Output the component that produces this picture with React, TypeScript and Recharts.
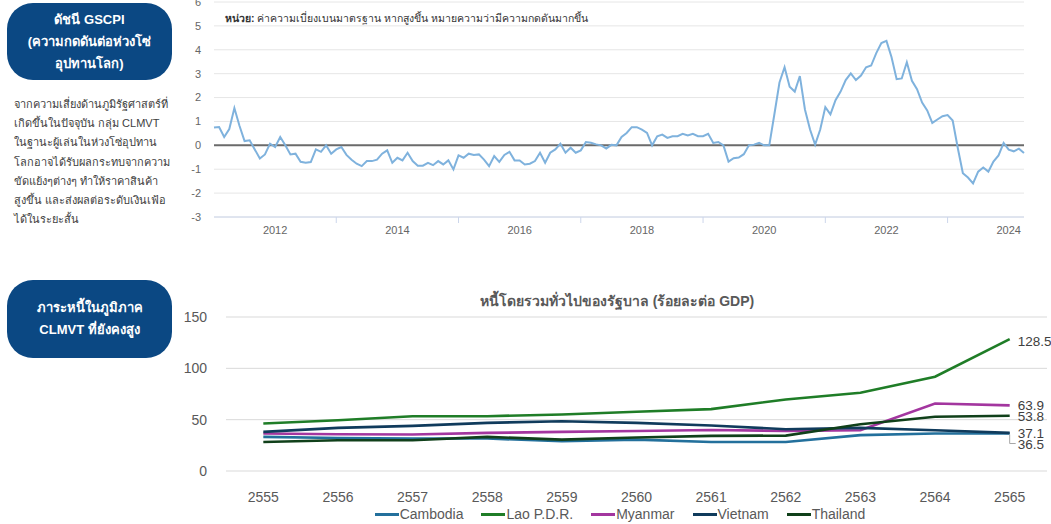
import React from 'react';
import { LineChart, Line, XAxis, YAxis, CartesianGrid, ReferenceLine, LabelList } from 'recharts';

// GSCPI monthly values, Jan 2011 - Apr 2024
const gscpiStartYear = 2011;
const gscpi2011 = [0.75, 0.77, 0.35, 0.68, 1.56, 0.82, 0.18, 0.21, -0.17, -0.55, -0.38, 0.07];
const gscpi2012 = [-0.07, 0.35, 0.0, -0.38, -0.35, -0.69, -0.73, -0.7, -0.17, -0.27, 0.0, -0.35];
const gscpi2013 = [-0.17, -0.07, -0.4, -0.6, -0.77, -0.87, -0.66, -0.66, -0.6, -0.35, -0.21, -0.73];
const gscpi2014 = [-0.52, -0.63, -0.31, -0.66, -0.85, -0.85, -0.73, -0.83, -0.66, -0.8, -0.63, -1.01];
const gscpi2015 = [-0.42, -0.52, -0.35, -0.4, -0.38, -0.6, -0.87, -0.45, -0.69, -0.4, -0.27, -0.63];
const gscpi2016 = [-0.63, -0.8, -0.77, -0.66, -0.31, -0.73, -0.31, -0.17, 0.07, -0.31, -0.1, -0.31];
const gscpi2017 = [-0.21, 0.14, 0.11, 0.04, 0.0, -0.13, 0.02, 0.0, 0.35, 0.52, 0.76, 0.76];
const gscpi2018 = [0.66, 0.52, 0.0, 0.38, 0.45, 0.31, 0.38, 0.38, 0.48, 0.41, 0.48, 0.38];
const gscpi2019 = [0.38, 0.48, 0.1, 0.14, 0.0, -0.68, -0.54, -0.51, -0.37, 0.0, 0.03, 0.1];
const gscpi2020 = [0.0, 0.0, 1.3, 2.63, 3.27, 2.45, 2.25, 2.9, 1.5, 0.66, 0.03, 0.66];
const gscpi2021 = [1.6, 1.3, 1.89, 2.25, 2.73, 3.01, 2.73, 2.92, 3.27, 3.34, 3.86, 4.28];
const gscpi2022 = [4.37, 3.69, 2.77, 2.8, 3.48, 2.7, 2.35, 1.79, 1.46, 0.94, 1.08, 1.22];
const gscpi2023 = [1.27, 1.04, -0.11, -1.17, -1.35, -1.59, -1.1, -0.93, -1.1, -0.68, -0.42, 0.1];
const gscpi2024 = [-0.18, -0.25, -0.14, -0.32];

const gscpiYearTicks = [2012, 2013, 2014, 2015, 2016, 2017, 2018, 2019, 2020, 2021, 2022, 2023, 2024];
const gscpiValueTicks = [-3, -2, -1, 0, 1, 2, 3, 4, 5, 6];

// government debt, % of GDP
const debtYears = ['2555', '2556', '2557', '2558', '2559', '2560', '2561', '2562', '2563', '2564', '2565'];
const cambodia = [33.2, 32.2, 31.6, 31.6, 29.0, 30.6, 28.3, 28.3, 34.9, 36.5, 36.5];
const lao = [46.3, 49.5, 53.4, 53.4, 55.0, 57.7, 60.3, 69.7, 76.2, 91.9, 128.5];
const myanmar = [36.5, 35.8, 35.5, 37.1, 38.1, 39.0, 40.0, 39.0, 39.7, 65.8, 63.9];
const vietnam = [38.1, 42.0, 44.0, 46.9, 48.5, 46.9, 44.3, 40.7, 42.0, 39.7, 37.1];
const thailand = [28.3, 30.0, 30.0, 33.2, 30.6, 32.6, 34.2, 34.5, 45.6, 52.8, 53.8];
const debtTicks = [0, 50, 100, 150];

const gscpiValues = [
  ...gscpi2011, ...gscpi2012, ...gscpi2013, ...gscpi2014, ...gscpi2015, ...gscpi2016, ...gscpi2017,
  ...gscpi2018, ...gscpi2019, ...gscpi2020, ...gscpi2021, ...gscpi2022, ...gscpi2023, ...gscpi2024,
];
const gscpiData = gscpiValues.map((v, i) => ({ t: gscpiStartYear + i / 12, v }));
const gscpiEnd = gscpiStartYear + (gscpiValues.length - 1) / 12;

const debtData = debtYears.map((year, i) => ({
  year,
  Cambodia: cambodia[i],
  'Lao P.D.R.': lao[i],
  Myanmar: myanmar[i],
  Vietnam: vietnam[i],
  Thailand: thailand[i],
}));

const series = [
  { key: 'Cambodia', color: '#23709c', dy: 11, leader: true },
  { key: 'Lao P.D.R.', color: '#1f7d27', dy: 2, leader: false },
  { key: 'Myanmar', color: '#a3369f', dy: 0, leader: false },
  { key: 'Vietnam', color: '#103b5c', dy: 1, leader: false },
  { key: 'Thailand', color: '#10401a', dy: 1, leader: false },
];

const font = '"Liberation Sans", Arial, sans-serif';
const navy = '#0b4883';

const YearTick = (props: any) => {
  const { x, y, payload } = props;
  const yr = payload.value;
  if (yr % 2 === 1) return <line x1={x} x2={x} y1={y} y2={y + 6} stroke="#ccd6eb" />;
  return (
    <text x={x} y={y + 17} textAnchor="middle" fill="#666" fontSize={11} fontFamily={font}>
      {yr}
    </text>
  );
};

const makeEndLabel = (dy: number, leader: boolean) => (props: any) => {
  const { x, y, index, value } = props;
  if (index !== debtYears.length - 1) return null;
  return (
    <g>
      {leader && (
        <polyline
          points={`${x},${y + 1} ${x},${y + dy - 1} ${x + 6},${y + dy - 1}`}
          fill="none"
          stroke="#a6a6a6"
          strokeWidth={1}
        />
      )}
      <text x={x + 8} y={y + dy} dominantBaseline="central" fill="#404040" fontSize={13.5} fontFamily={font}>
        {value.toFixed(1)}
      </text>
    </g>
  );
};

const Pill = ({ top, height, lines }: { top: number; height: number; lines: string[] }) => (
  <div
    style={{
      position: 'absolute', left: 7, top, width: 165, height, background: navy, borderRadius: 26,
      color: '#fff', fontWeight: 'bold', fontSize: 13, display: 'flex', flexDirection: 'column',
      justifyContent: 'center', alignItems: 'center', lineHeight: '22px', textAlign: 'center',
    }}
  >
    {lines.map((l) => <div key={l}>{l}</div>)}
  </div>
);

const paragraph = [
  'จากความเสี่ยงด้านภูมิรัฐศาสตร์ที่',
  'เกิดขึ้นในปัจจุบัน กลุ่ม CLMVT',
  'ในฐานะผู้เล่นในห่วงโซ่อุปทาน',
  'โลกอาจได้รับผลกระทบจากความ',
  'ขัดแย้งๆต่างๆ ทำให้ราคาสินค้า',
  'สูงขึ้น และส่งผลต่อระดับเงินเฟ้อ',
  'ได้ในระยะสั้น',
];

export default function App() {
  return (
    <div style={{ position: 'absolute', left: 0, top: 0, width: 1051, height: 524, background: '#fff', fontFamily: font, overflow: 'hidden' }}>
      <Pill top={3} height={77} lines={['ดัชนี GSCPI', '(ความกดดันต่อห่วงโซ่', 'อุปทานโลก)']} />
      <div style={{ position: 'absolute', left: 14, top: 95, fontSize: 11, color: '#404040', lineHeight: '19.2px' }}>
        {paragraph.map((l) => <div key={l}>{l}</div>)}
      </div>

      <div style={{ position: 'absolute', left: 0, top: 0 }}>
        <LineChart width={1051} height={240} data={gscpiData} margin={{ top: 2, right: 27, bottom: 0, left: 0 }}>
          <CartesianGrid vertical={false} stroke="#e6e6e6" />
          <XAxis
            dataKey="t"
            type="number"
            domain={[gscpiStartYear, gscpiEnd]}
            ticks={gscpiYearTicks}
            height={23}
            stroke="#ccd6eb"
            tickLine={false}
            tickSize={0}
            tickMargin={0}
            tick={<YearTick />}
            interval={0}
          />
          <YAxis
            type="number"
            domain={[-3, 6]}
            ticks={gscpiValueTicks}
            width={214}
            axisLine={false}
            tickLine={false}
            tickSize={0}
            tickMargin={13}
            tick={{ fill: '#666', fontSize: 11, fontFamily: font }}
            interval={0}
          />
          <ReferenceLine y={0} stroke="#6b6b6b" strokeWidth={2} />
          <Line type="linear" dataKey="v" stroke="#7fb2dd" strokeWidth={2} dot={false} isAnimationActive={false} />
        </LineChart>
      </div>
      <div style={{ position: 'absolute', left: 225, top: 10, fontSize: 10.5, color: '#333' }}>
        <b>หน่วย:</b> ค่าความเบี่ยงเบนมาตรฐาน หากสูงขึ้น หมายความว่ามีความกดดันมากขึ้น
      </div>

      <Pill top={280} height={78} lines={['ภาระหนี้ในภูมิภาค', 'CLMVT ที่ยังคงสูง']} />

      <div style={{ position: 'absolute', left: 0, top: 290, width: 1234, textAlign: 'center', fontSize: 14, fontWeight: 'bold', color: '#595959' }}>
        หนี้โดยรวมทั่วไปของรัฐบาล (ร้อยละต่อ GDP)
      </div>
      <div style={{ position: 'absolute', left: 0, top: 270 }}>
        <LineChart
          width={1051}
          height={254}
          data={debtData}
          margin={{ top: 47, right: 4, bottom: 30, left: 0 }}
          style={{ overflow: 'visible' }}
        >
          <CartesianGrid vertical={false} stroke="#d9d9d9" />
          <XAxis
            dataKey="year"
            scale="band"
            height={23}
            axisLine={false}
            tickLine={false}
            tickSize={0}
            tickMargin={21}
            tick={{ fill: '#595959', fontSize: 14, fontFamily: font }}
            interval={0}
          />
          <YAxis
            type="number"
            domain={[0, 150]}
            ticks={debtTicks}
            width={226}
            axisLine={false}
            tickLine={false}
            tickSize={0}
            tickMargin={19}
            tick={{ fill: '#595959', fontSize: 14, fontFamily: font }}
            interval={0}
          />
          {series.map((s) => (
            <Line
              key={s.key}
              type="linear"
              dataKey={s.key}
              stroke={s.color}
              strokeWidth={2.6}
              dot={false}
              isAnimationActive={false}
            >
              <LabelList dataKey={s.key} content={makeEndLabel(s.dy, s.leader)} />
            </Line>
          ))}
        </LineChart>
      </div>
      <div
        style={{
          position: 'absolute', left: 0, top: 506, width: 1240, display: 'flex', justifyContent: 'center',
          gap: 18, fontSize: 14, color: '#595959', lineHeight: '16px',
        }}
      >
        {series.map((s) => (
          <div key={s.key} style={{ display: 'flex', alignItems: 'center' }}>
            <div style={{ width: 24, height: 3, background: s.color, marginRight: 1 }} />
            <span>{s.key}</span>
          </div>
        ))}
      </div>
    </div>
  );
}
